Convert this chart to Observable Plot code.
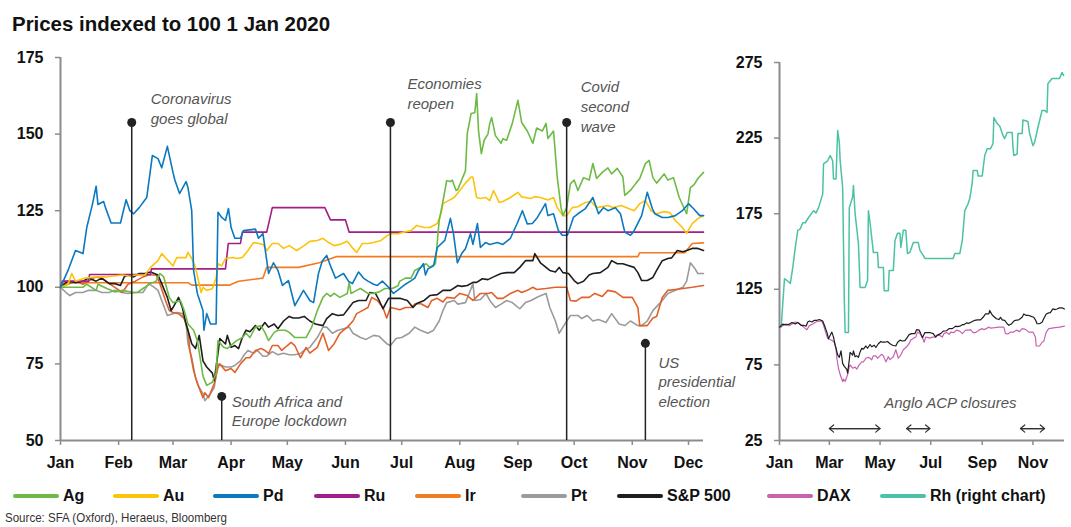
<!DOCTYPE html>
<html><head><meta charset="utf-8">
<script src="https://cdn.jsdelivr.net/npm/d3@7"></script>
<script src="https://cdn.jsdelivr.net/npm/@observablehq/plot@0.6"></script>
<style>
html,body{margin:0;padding:0;background:#fff;}
#wrap{position:relative;width:1071px;height:527px;overflow:hidden;font-family:"Liberation Sans",Arial,Helvetica,sans-serif;color:#111;}
#title{position:absolute;left:12px;top:13px;font-size:21px;line-height:1;font-weight:bold;white-space:nowrap;transform-origin:0 0;}
#left{position:absolute;left:0;top:40px;width:720px;height:440px;}
#right{position:absolute;left:720px;top:40px;width:351px;height:440px;}
.leg{position:absolute;top:488px;height:16px;white-space:nowrap;font-size:16px;line-height:1;font-weight:bold;}
.leg .sw{position:absolute;left:0;top:6px;width:46px;height:4px;border-radius:2px;}
.leg .lb{position:absolute;left:50px;top:0;}
#source{position:absolute;left:5px;top:511px;font-size:13.5px;line-height:1;white-space:nowrap;transform-origin:0 0;color:#333;}
svg{overflow:visible;}
</style></head>
<body><div id="wrap">
<div id="title">Prices indexed to 100 1 Jan 2020</div>
<div id="left"></div>
<div id="right"></div>
<div id="legend"></div>
<div id="source">Source: SFA (Oxford), Heraeus, Bloomberg</div>
</div>
<script>
// ---------- DATA (day of 2020 counted from 1 Jan, index value) ----------
const agData = [[0,100],[12,100],[14,101],[19,99],[20,101],[25,99.5],[27,99],[29,98.5],[33,99],[39,98.3],[41,98.3],[44,99.6],[48,101.2],[51,102],[53,104.5],[55,103.5],[58,96.7],[60,95],[64,95.7],[66,92.4],[68,88],[71,86],[73,82.6],[75,75],[76,71],[78,68],[81,69],[83,72],[84,82.6],[87,80.4],[89,80],[92,81.6],[94,82.6],[97,83.6],[99,85],[101,83.6],[104,87],[107,87.4],[109,85.3],[111,82.6],[114,85.3],[116,86],[120,86],[122,85.3],[125,83.6],[131,83.6],[134,87],[137,92.4],[140,96.7],[142,98],[144,97],[146,98],[149,96.7],[153,98],[154,101.6],[155,98],[158,99],[160,99.6],[164,98],[167,98],[170,98.5],[173,99.6],[177,99.6],[180,100.5],[181,102],[184,103],[187,103],[189,105.5],[192,106.5],[195,107.7],[197,106.5],[200,107.7],[202,121.8],[204,128],[206,134.8],[208,134.5],[209,135],[211,131.6],[212,132],[214,135],[216,138],[217,150.2],[219,156.7],[221,157],[222,163.2],[223,151],[224.5,143.6],[226,148],[228,150],[229,153.5],[230,155.4],[232,149.5],[235,147],[236,148.5],[238,148],[241,153.5],[244,161],[246,153.8],[249,151],[252,147],[254,152],[257,151],[259,153.5],[260,148.6],[263,151],[265,135.8],[267,126],[268,123.4],[270,126],[272,133.8],[274,135],[276,131.6],[279,135.8],[282,135],[284,140.4],[286,135.5],[289,137.5],[292,139],[294,137],[297,138.8],[300,136],[301,130],[304,131.6],[307,134],[309,135.5],[312,140.4],[314,141.4],[316,135.8],[318,134],[322,137],[324,135],[327,135.8],[330,129.4],[332,126.7],[334,124],[336,132.5],[338,133.5],[340,135.5],[343,137.5]];
const auData = [[0,100],[4,101],[6,104.5],[8,102],[13,103],[19,103.4],[24,103.4],[27,103.6],[33,104],[37,103.6],[40,104],[45,104],[48,106.5],[52,108.7],[54,111],[57,109],[60,107],[62,109.7],[67,109.7],[68,111.4],[70,109.4],[72,106.5],[75,98.3],[76,100],[78,99],[81,99.5],[83,103],[84,107.7],[86,107],[88,109.4],[92,109.7],[94,109.4],[97,109.7],[100,112],[103,114.6],[106,114.3],[108,114],[110,112],[113,114.3],[116,114.3],[119,112.7],[122,113.6],[126,112],[130,113.6],[133,115],[137,115.3],[140,116],[143,114.6],[146,113.6],[149,114],[153,115],[156,112.7],[158,111.4],[161,114.3],[164,114.3],[167,114.6],[171,115.3],[173,116.3],[176,117.5],[180,117.5],[183,118],[187,118.5],[190,120.2],[194,119.5],[197,119.5],[201,120.8],[203,124],[204,127.3],[207,128.3],[210,129.3],[213,131.6],[216,134],[219,136],[220,136],[222,129.3],[224,129],[227,129.3],[229,128.3],[231,131.6],[234,127.7],[236,128],[240,129.3],[244,131],[246,129.5],[251,129],[253,129.6],[256,129.3],[260,128.5],[263,129.3],[265,126],[268,123.4],[270,123.4],[273,126],[276,126.3],[280,127.7],[283,128],[286,126],[292,126.7],[295,126],[299,126.7],[302,126],[306,125],[309,127.3],[312,128.3],[315,125],[318,124],[322,124.7],[325,124.4],[328,121.8],[331,120],[334,117.6],[337,120.8],[340,122.4],[343,123.4]];
const pdData = [[0,100],[4,105.5],[8,112],[12,111],[14,119.5],[17,127],[19,133],[20,127],[23,128],[24,126],[27,121],[28,121],[32,121],[35,128.6],[37,125],[39,124],[42,126],[46,129.3],[49,143],[52,142],[54,139],[57,146],[60,137.5],[61,135],[63.5,130.6],[67,134.5],[68,132.5],[70,125],[71,105.5],[73,98],[76,92.4],[76.5,86],[78,91.4],[80,88],[83,88],[84,124.5],[86,122.8],[88,121.8],[89.6,125.7],[91,119.5],[93,116],[96,116],[97.6,118.5],[104,119],[105.6,116],[108,117.5],[111,104.5],[113.6,108],[116,105.5],[118.4,100.6],[121.6,102.2],[125,94],[129.6,99],[133,95.7],[135,95],[137.6,104.5],[139.7,108.7],[142,110.4],[144,107],[146.7,103],[151,104.5],[153.6,102],[155.7,101.2],[159,105],[161.6,103],[164,102],[167,101],[169,100.6],[171.7,102],[175,100],[177.6,98],[181,99.6],[184,101],[186.7,102],[189,103],[191,105.5],[193.6,107.7],[194.7,104],[196,106],[199,107],[201,113],[205,115.3],[208,122.5],[209.6,117.6],[211.7,108],[214,111],[216,112.6],[218.7,117.5],[220,114],[222.4,120.8],[224,113],[226.7,114.6],[229,114],[233,114.6],[236,114],[240,116],[243.7,121],[246.4,125],[249,120.7],[251.7,120.8],[254.4,122.8],[258.7,127.3],[260,123.4],[263,124],[265.6,118.5],[267.7,117],[270.4,117],[273.6,122.8],[276,124],[280,125.7],[284,129.3],[287,124],[289.6,126],[292,125],[296,126],[298.7,124],[301,118],[304,117],[305.6,118],[310,123.4],[313,131],[315.7,125.7],[317,124],[321,122.8],[324,122.8],[328,123.4],[331.7,125],[335,127.3],[337.6,125.7],[341,123.4],[343,123.4]];
const ruData = [[0,100],[1,102],[15,102],[15.5,104.2],[48,104.2],[48.5,106],[88,106],[89.5,114.3],[96,114.3],[97,118],[110,118],[113,126],[141,126],[144,122],[152,122],[154,118],[343,118]];
const irData = [[0,100],[2,101.5],[68,101.5],[70,100.7],[90,100.7],[95,102],[108,103],[110,106.5],[127,106.5],[138,108],[147,110],[308,110],[309,111.3],[333,111.3],[337,114.3],[343,114.5]];
const ptData = [[0,100],[3,98.3],[5,97.3],[8,98.3],[12,98.3],[15,99],[19,99],[22,98.3],[26,98.3],[29,99],[33,98.3],[36,98],[40,98.3],[44,98.3],[47,101.2],[50,100],[52,99],[54,95.7],[57,90.8],[60,91.4],[62,91.8],[65,91.4],[67,88],[68,81.6],[70,77],[72,70.5],[74,67.3],[76,65.3],[77,63],[80,65.3],[82,67.3],[84,75],[86,74.5],[88,74],[91,74],[93,74.5],[96,76],[98,78],[100,79.4],[103,78.5],[105,79.4],[108,77.5],[110,77.5],[113,79],[116,78],[119,78.5],[122,78],[125,78],[128,78.4],[130,79.4],[133,80.4],[137,83.6],[140,87],[142,87],[145,85],[148,86],[151,86.5],[154,87],[156,85],[160,83.6],[163,83],[167,84.3],[170,84],[174,81.6],[176,81],[179,83.3],[182,83.6],[186,85],[189,87],[192,86],[196,85],[199,86],[202,89],[204,92.4],[206,95],[210,95.7],[212,94.5],[216,95],[218,98],[220,101.2],[221,95.7],[224,96],[227,98],[229,95.7],[232,93.4],[235,94.5],[238,95.7],[241,95],[245,93],[248,95],[251,95.7],[255,97],[259,98],[261,93.4],[264,89],[266,85],[268,87],[272,90.8],[276,90.8],[278,89.8],[281,90.8],[284,89],[287,89.5],[291,88.5],[294,91.4],[298,88],[301,87.5],[304,89],[308,87.5],[310,87.5],[313,89],[316,92.4],[320,95],[324,98],[328,99],[332,100],[334,102],[336,108],[338,106.5],[340,104.5],[343,104.5]];
const spData = [[0,100],[4,102],[8,101.5],[12,102],[15,103],[19,102],[22,103],[26,101.2],[29,101.2],[32,100.6],[34,103.4],[36,104],[39,103.4],[42,104.5],[45,104.5],[48,105],[52,104],[54,101.2],[57,96.7],[59,92.4],[60,93.4],[63,96.7],[65,93.4],[67,88],[68,86],[70,81.6],[72,80],[74,84.3],[76,76],[78,74],[81,72],[82,69.6],[84,78.4],[85,83.3],[88,81.5],[89,84.3],[91,80.4],[93,81],[95,80],[97,83.6],[99,86],[101,85.5],[104,87.5],[106,86],[109,88.5],[111,87],[114,88],[116,86.5],[119,89],[122,90.5],[124,90],[127,90],[130,90.5],[133,89],[136,88],[140,87.5],[142,89.8],[145,91.4],[148,90.8],[151,91],[154,93.4],[156,95],[159,95.7],[163,95.7],[165,98.3],[168,98],[170,95.7],[172,93],[175,96.4],[178,96.4],[181,96.4],[185,95.7],[188,93.4],[190,94.7],[194,95.7],[197,97.3],[201,97.6],[204,99],[208,99],[212,100.6],[214,100.3],[217,100.6],[220,101.6],[222,101.6],[225,102.8],[228,102.5],[231,103.4],[235,104.5],[238,104.8],[242,104.8],[245,106.5],[248,108.7],[252,108.7],[253,111],[256,108],[259,106.5],[261,105.5],[264,105],[266,106.5],[268,104.8],[271,104.5],[274,102.2],[276,101.2],[279,102],[282,104],[284,104.5],[288,104.8],[292,106.5],[294,108.7],[297,107.7],[300,107.7],[302,107.3],[306,106.5],[308,104.8],[310,102.2],[313,102.2],[316,103.2],[318,105.5],[321,108.7],[324,109.4],[326,109.6],[329,112],[332,111.6],[334,112],[337,112.7],[340,112.7],[343,112]];
const daxData = [[0,100],[4,101],[8,102],[12,101],[15,102],[19,103.4],[22,103],[26,101.2],[29,100],[33,98.3],[36,101],[40,102],[44,103.4],[47,104],[51,104],[53,101.2],[56,95.7],[58,92.4],[60,91.8],[63,91.4],[66,89.8],[68,86],[69,79.4],[71,72.8],[73,68.6],[76,64],[77,65.6],[79,64],[82,68.6],[84,73.8],[85,75],[88,72.8],[91,73.5],[93,72.2],[96,75],[99,77],[101,77],[104,79.4],[107,80],[109,79.4],[111,78.4],[113,81],[116,81],[118,79.4],[121,81],[123,82],[125,81],[128,77],[131,80.4],[133,78.5],[137,80.4],[140,85],[143,79.4],[146,81.6],[149,85],[153,87],[156,89],[158,91.4],[161,92.4],[164,93.4],[166,96.7],[169,95.7],[172,93.4],[174,90],[176,93.4],[179,93],[181,92.7],[184,93.4],[187,93.4],[189,94.5],[192,94.7],[196,93.4],[198,95.7],[201,96.4],[204,95.2],[206,96.7],[210,96.4],[213,98],[217,97.3],[220,95.7],[224,98],[228,98],[230,98.3],[233,96.4],[236,96.4],[240,98],[244,99],[246,98.3],[249,99],[252,100],[254,99.3],[259,99.6],[264,100],[270,100],[272,95.7],[275,95.5],[278,96.7],[282,96.7],[285,98],[289,97],[292,99],[296,98.5],[300,96.7],[305,96.7],[308,93.4],[309,87.5],[313,87.5],[316,90],[318,90.5],[321,96.7],[324,99],[328,99.3],[332,99.6],[337,100],[343,100.6]];
const rhData = [[0,100],[2,100],[6,132],[11,130],[13,128.8],[16,139.5],[19,152.6],[22,164],[25,165],[28,169],[31,169],[35,172.5],[41,177],[44,175.5],[47,179],[52,188],[53,208],[58,210],[61,213.5],[64,210],[65,198],[68,198],[70,230],[72,222],[73,210],[76,192.5],[78,118],[79,96.4],[83,96.4],[84,179],[88,186],[89,193.6],[91,175],[95,155.3],[97,126.2],[103,126.2],[106,130.8],[107,177],[109,169],[113,149.3],[118,149.3],[119,139.4],[125,139.4],[126,124],[131,124],[132,137.4],[137,137.4],[139,157.3],[142,162],[145,162],[146,152.6],[149,164],[152,164],[154,148.6],[157,149.5],[161,156],[167,156],[169,150.7],[173,147.4],[175,145.4],[209,145.4],[211,148.6],[217,148.6],[220,157.3],[223,177],[227,181.7],[229,185],[232,195.6],[233,203.6],[238,203.6],[239,200],[244,200],[247,213.5],[250,218],[254,218],[257,221.4],[258,238.6],[262,234.6],[265,233],[269,226.7],[271,224.7],[274,228.7],[280,228.7],[281,218.8],[282,213.5],[286,214.5],[287,228],[292,228],[293,237],[299,236],[301,228],[305,220],[307,222],[311,232],[316,243.3],[319,243.3],[322,242],[323,261],[328,264.4],[337,264.4],[340,268.4],[342,266.5]];

const leftYTicks = [50, 75, 100, 125, 150, 175];
const rightYTicks = [25, 75, 125, 175, 225, 275];
const leftMonthTicks = ["2020-01-01","2020-02-01","2020-03-01","2020-04-01","2020-05-01","2020-06-01","2020-07-01","2020-08-01","2020-09-01","2020-10-01","2020-11-01","2020-12-01"];
const leftMonthLabels = ["Jan","Feb","Mar","Apr","May","Jun","Jul","Aug","Sep","Oct","Nov","Dec"];
const rightMonthTicks = ["2020-01-01","2020-03-01","2020-05-01","2020-07-01","2020-09-01","2020-11-01"];
const rightMonthLabels = ["Jan","Mar","May","Jul","Sep","Nov"];

const eventDates = ["2020-02-08","2020-03-27","2020-06-25","2020-09-27","2020-11-08"];
const eventValues = [153.8, 64.4, 153.8, 153.8, 81.7];
const eventLabels = ["Coronavirus\ngoes global","South Africa and\nEurope lockdown","Economies\nreopen","Covid\nsecond\nwave","US\npresidential\nelection"];

const closureStarts = ["2020-03-01","2020-06-02","2020-10-17"];
const closureEnds = ["2020-05-01","2020-06-30","2020-11-15"];
const closureLabel = "Anglo ACP closures";

const legendNames = ["Ag","Au","Pd","Ru","Ir","Pt","S&P 500","DAX","Rh (right chart)"];

// ---------- STYLES / LAYOUT ----------
const FONT = '"Liberation Sans", Arial, Helvetica, sans-serif';
const C = {Ag:"#6dbb45", Au:"#fcc30b", Pd:"#0b79bf", Ru:"#a01f88", Ir:"#f47a20", Pt:"#9b9b9b", SP:"#1e1e1e", DAXL:"#e2612a", DAX:"#c862b0", Rh:"#4cc2a4"};
const legendColors = [C.Ag, C.Au, C.Pd, C.Ru, C.Ir, C.Pt, C.SP, C.DAX, C.Rh];
const legendLeft = [13,113,213,314,415,521,617,767,880];
const eventOffsets = [[19,-33],[10,-4],[17,-48],[14,-45],[13,10]];
const AX = "#8c8c8c";

const day0 = Date.UTC(2020,0,1);
const toDate = d => new Date(day0 + d*86400000);
const pDate = s => new Date(s + "T00:00:00Z");
const rows = arr => arr.map(([d,v]) => ({date: toDate(d), value: v}));
const xDomain = [toDate(0), toDate(343)];

function axes(monthTicks, monthLabels, yTicks, yMin) {
  return [
    Plot.axisX(monthTicks.map(pDate), {tickFormat: (d,i) => monthLabels[i], tickSize: 5, tickPadding: 11, stroke: AX, strokeWidth: 1.5, label: null, fill: "#111"}),
    Plot.axisY(yTicks, {tickSize: 5, tickPadding: 12, stroke: AX, strokeWidth: 1.5, label: null, fill: "#111"}),
    Plot.ruleY([yMin], {stroke: AX, strokeWidth: 2}),
    Plot.ruleX([toDate(0)], {stroke: AX, strokeWidth: 2})
  ];
}
const line = (data, color, w) => Plot.line(rows(data), {x: "date", y: "value", stroke: color, strokeWidth: w});
const plotStyle = {fontFamily: FONT, fontSize: "16px", fontWeight: "bold", color: "#111", background: "transparent", overflow: "visible"};

const events = eventDates.map((d,i) => ({date: pDate(d), value: eventValues[i], label: eventLabels[i]}));
const eventTexts = events.map((e,i) => Plot.text([e], {x: "date", y: "value", text: "label", dx: eventOffsets[i][0], dy: eventOffsets[i][1], textAnchor: "start", lineAnchor: "top", lineHeight: 1.33, fontSize: 15, fontStyle: "italic", fontWeight: "normal", fill: "#555"}));

const left = Plot.plot({
  width: 720, height: 440, marginLeft: 60, marginRight: 17, marginTop: 17, marginBottom: 40,
  style: plotStyle,
  x: {type: "utc", domain: xDomain},
  y: {domain: [50, 175]},
  marks: [
    ...axes(leftMonthTicks, leftMonthLabels, leftYTicks, 50),
    line(irData, C.Ir, 1.6),
    line(ptData, C.Pt, 1.6),
    line(daxData, C.DAXL, 1.6),
    line(spData, C.SP, 1.6),
    line(ruData, C.Ru, 1.6),
    line(auData, C.Au, 1.6),
    line(agData, C.Ag, 1.6),
    line(pdData, C.Pd, 1.6),
    Plot.ruleX(events, {x: "date", y1: 50, y2: "value", stroke: "#222", strokeWidth: 1.5}),
    Plot.dot(events, {x: "date", y: "value", r: 4.5, fill: "#222"}),
    ...eventTexts
  ]
});
document.getElementById("left").append(left);

const closures = closureStarts.map((s,i) => ({start: pDate(s), end: pDate(closureEnds[i])}));
const right = Plot.plot({
  width: 351, height: 440, marginLeft: 59, marginRight: 7, marginTop: 22, marginBottom: 40,
  style: plotStyle,
  x: {type: "utc", domain: xDomain},
  y: {domain: [25, 275]},
  marks: [
    ...axes(rightMonthTicks, rightMonthLabels, rightYTicks, 25),
    line(rhData, C.Rh, 1.5),
    line(daxData, C.DAX, 1.2),
    line(spData, C.SP, 1.2),
    Plot.text([{date: pDate("2020-05-06"), value: 53.4, label: closureLabel}], {x: "date", y: "value", text: "label", textAnchor: "start", lineAnchor: "top", fontSize: 15, fontStyle: "italic", fontWeight: "normal", fill: "#555"}),
    Plot.arrow(closures, {x1: "start", x2: "end", y1: 32.9, y2: 32.9, stroke: "#333", strokeWidth: 1.2, headLength: 7, headAngle: 80}),
    Plot.arrow(closures, {x1: "end", x2: "start", y1: 32.9, y2: 32.9, stroke: "#333", strokeWidth: 1.2, headLength: 7, headAngle: 80})
  ]
});
document.getElementById("right").append(right);

// legend
const legend = document.getElementById("legend");
legendNames.forEach((n,i) => {
  const item = document.createElement("div");
  item.className = "leg";
  item.style.left = legendLeft[i] + "px";
  const sw = document.createElement("span"); sw.className = "sw"; sw.style.background = legendColors[i];
  const lb = document.createElement("span"); lb.className = "lb"; lb.textContent = n;
  item.append(sw, lb);
  legend.append(item);
});

// fit title & source widths to the reference
function fit(id, w) { const el = document.getElementById(id); const cw = el.getBoundingClientRect().width; el.style.transform = `scaleX(${w/cw})`; }
fit("title", 318);
fit("source", 222);
</script>
</body></html>
